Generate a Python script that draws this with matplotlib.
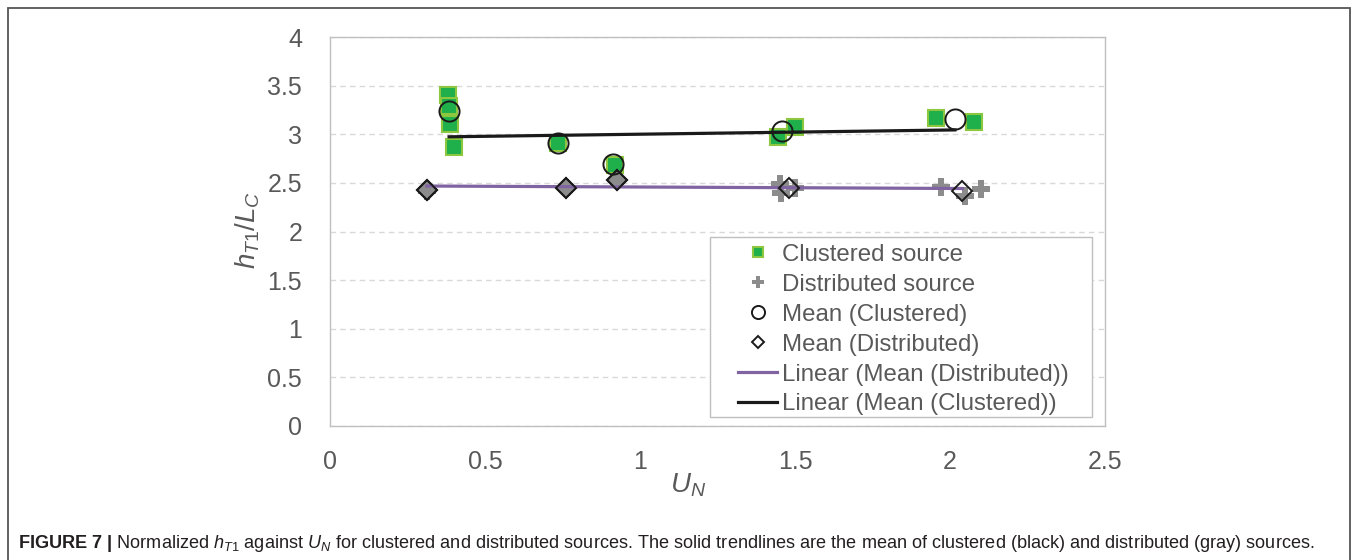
import matplotlib
matplotlib.use('Agg')
import matplotlib.pyplot as plt
import numpy as np
from matplotlib.patches import Rectangle

plt.rcParams['font.family'] = 'Liberation Sans'
plt.rcParams['mathtext.fontset'] = 'custom'
plt.rcParams['mathtext.rm'] = 'Liberation Sans'
plt.rcParams['mathtext.it'] = 'Liberation Sans:italic'
plt.rcParams['mathtext.bf'] = 'Liberation Sans:bold'

# Data
clustered_x = [0.382, 0.385, 0.388, 0.40, 0.737, 0.919, 1.446, 1.50, 1.955, 2.077]
clustered_y = [3.40, 3.29, 3.11, 2.87, 2.91, 2.68, 2.97, 3.07, 3.165, 3.13]

distributed_x = [0.312, 0.761, 0.927, 1.452, 1.456, 1.50, 1.97, 2.048, 2.099]
distributed_y = [2.42, 2.45, 2.53, 2.485, 2.40, 2.45, 2.46, 2.37, 2.44]

mean_clustered_x = [0.384, 0.735, 0.914, 1.459, 2.016]
mean_clustered_y = [3.24, 2.91, 2.69, 3.03, 3.155]

mean_distributed_x = [0.312, 0.761, 0.927, 1.479, 2.04]
mean_distributed_y = [2.43, 2.45, 2.53, 2.45, 2.42]

text_gray = '#595959'

fig = plt.figure(figsize=(13.57, 5.6), dpi=100)
ax = fig.add_axes([0.2432, 0.2393, 0.5711, 0.6946])

# gridlines
ax.set_axisbelow(True)
ax.grid(axis='y', linestyle=(0, (4, 3)), color='#d9d9d9', linewidth=1)

ax.plot(clustered_x, clustered_y, 's', markersize=11, markerfacecolor='#1faf4b',
        markeredgecolor='#8dc63f', markeredgewidth=1.5, label='Clustered source', zorder=3)
ax.plot(distributed_x, distributed_y, 'P', markersize=13, color='#8c8c8c',
        markeredgewidth=0, label='Distributed source', zorder=3)

# trendlines (least-squares fits of the means)
pc = np.polyfit(mean_clustered_x, mean_clustered_y, 1)
pd_ = np.polyfit(mean_distributed_x, mean_distributed_y, 1)
xc = np.array([min(mean_clustered_x), max(mean_clustered_x)])
xd = np.array([min(mean_distributed_x), max(mean_distributed_x)])

ax.plot(mean_clustered_x, mean_clustered_y, 'o', markersize=14.5, markerfacecolor='none',
        markeredgecolor='#1a1a1a', markeredgewidth=1.4, label='Mean (Clustered)', zorder=5)
ax.plot(mean_distributed_x, mean_distributed_y, 'D', markersize=10, markerfacecolor='none',
        markeredgecolor='#1a1a1a', markeredgewidth=1.4, label='Mean (Distributed)', zorder=5)
# gray fill seen inside the first three diamonds
ax.plot(mean_distributed_x[:3], mean_distributed_y[:3], 'D', markersize=10,
        markerfacecolor='#8c8c8c', markeredgecolor='#1a1a1a', markeredgewidth=1.4, zorder=4)

ax.plot(xd, np.polyval(pd_, xd), color='#8064a2', linewidth=2.3,
        label='Linear (Mean (Distributed))', zorder=4)
ax.plot(xc, np.polyval(pc, xc), color='#1a1a1a', linewidth=2.3,
        label='Linear (Mean (Clustered))', zorder=4)

ax.set_xlim(0, 2.5)
ax.set_ylim(0, 4)
ax.set_xticks([0, 0.5, 1, 1.5, 2, 2.5])
ax.set_xticklabels(['0', '0.5', '1', '1.5', '2', '2.5'])
ax.set_yticks(np.arange(0, 4.01, 0.5))
ax.set_yticklabels(['0', '0.5', '1', '1.5', '2', '2.5', '3', '3.5', '4'])
ax.tick_params(axis='both', length=0, labelsize=18, colors=text_gray)
ax.tick_params(axis='x', pad=17)
ax.tick_params(axis='y', pad=20)
for s in ax.spines.values():
    s.set_color('#bfbfbf')
    s.set_linewidth(1)

ax.set_xlabel('$U_N$', fontsize=20, color=text_gray, labelpad=0)
ax.xaxis.set_label_coords(0.462, -0.118)
ax.set_ylabel('$h_{T1}/L_C$', fontsize=20, color=text_gray)
ax.yaxis.set_label_coords(-0.088, 0.505)

# legend box drawn separately, entries placed inside it
ax.add_patch(Rectangle((0.490, 0.023), 0.493, 0.463, transform=ax.transAxes,
                       facecolor='white', edgecolor='#bfbfbf', linewidth=1, zorder=6))
handles, labels = ax.get_legend_handles_labels()
leg = ax.legend(handles, labels, loc='lower left', bbox_to_anchor=(0.527, 0.027),
                borderaxespad=0, fontsize=17.3, frameon=False,
                labelspacing=0.33, handlelength=1.6,
                handletextpad=0.2, borderpad=0, labelcolor=text_gray)
leg.set_zorder(7)
for h in leg.legend_handles:
    if hasattr(h, 'set_markersize'):
        h.set_markersize(h.get_markersize() * 0.65)

# caption
fig.text(18 / 1357, 1 - 543 / 560,
         r'$\mathbf{FIGURE\ 7\ |}$ Normalized $h_{T1}$ against $U_N$ for clustered and distributed '
         r'sources. The solid trendlines are the mean of clustered (black) and distributed (gray) sources.',
         fontsize=13.1, color='#231f20', va='center', ha='left')

# figure border
fig.patches.append(Rectangle((8 / 1357, -0.02), 1342 / 1357, 1 - 8 / 560 + 0.02,
                             transform=fig.transFigure, fill=False,
                             edgecolor='#555555', linewidth=1.3))

fig.savefig('out.png', dpi=100)
